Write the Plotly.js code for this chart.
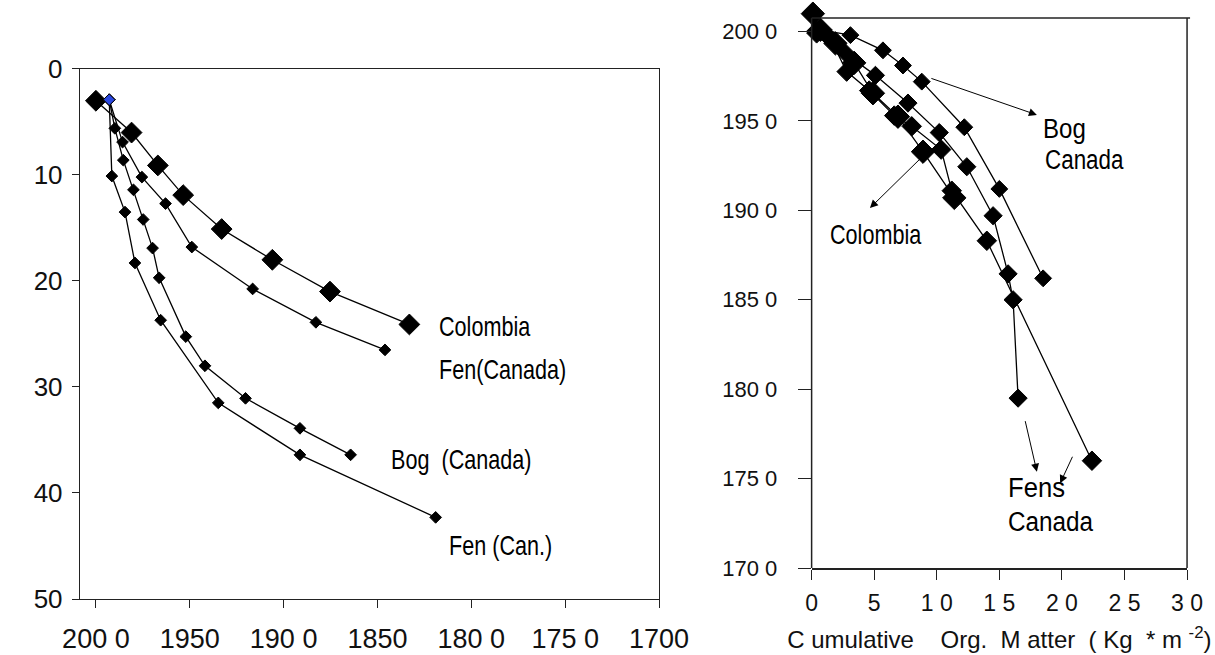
<!DOCTYPE html>
<html>
<head>
<meta charset="utf-8">
<script src="https://cdn.plot.ly/plotly-3.0.1.min.js"></script>
<style>html,body{margin:0;padding:0;background:#fff;}#chart{width:1215px;height:655px;}</style>
</head>
<body>
<div id="chart"></div>
<script>
// ---- Left panel: depth (cm) vs. year ----
const colYears = [2000, 1981, 1967, 1953.5, 1933, 1906, 1875.3, 1833];
const colDepth = [3.0, 6.0, 9.1, 11.9, 15.1, 18.0, 21.0, 24.1];

const fenCanYears = [1992.9, 1985.8, 1975.5, 1962.9, 1948.9, 1916.5, 1882.8, 1846];
const fenCanDepth = [2.9, 6.9, 10.2, 12.7, 16.8, 20.75, 23.9, 26.5];

const bogCanYears = [1992.9, 1989.9, 1985.4, 1980, 1974.8, 1969.8, 1966.3, 1952.1, 1941.9, 1920.3, 1891.3, 1864.3];
const bogCanDepth = [2.9, 5.6, 8.6, 11.4, 14.2, 16.9, 19.7, 25.25, 28.0, 31.07, 33.9, 36.4];

const fenCan2Years = [1992.9, 1991.5, 1984.5, 1979.2, 1965.5, 1934.8, 1891.3, 1819];
const fenCan2Depth = [2.9, 10.1, 13.5, 18.3, 23.7, 31.5, 36.4, 42.3];

const leftXTickVals = [2000, 1950, 1900, 1850, 1800, 1750, 1700];
const leftXTickText = ["200 0", "1950", "190 0", "1850", "180 0", "175 0", "1700"];
const leftYTickVals = [0, 10, 20, 30, 40, 50];
const leftYTickText = ["0", "10", "20", "30", "40", "50"];

// ---- Right panel: year vs. cumulative organic matter ----
const bogROM   = [0.7, 3.1, 5.7, 7.3, 8.8, 12.2, 15.0, 18.5];
const bogRYear = [2001, 1998, 1989.5, 1981, 1972, 1946.5, 1912, 1862];

const colROM   = [0.1, 0.7, 1.9, 3.4, 4.9, 6.9, 8.9, 11.4];
const colRYear = [2010, 2001, 1993.4, 1982.5, 1965.5, 1952.4, 1932.8, 1907];

const fenAOM   = [0.3, 2.7, 5.1, 7.7, 10.2, 12.4, 14.5, 15.7, 16.1, 16.5];
const fenAYear = [2000, 1988, 1975.5, 1960, 1943.5, 1924.4, 1897, 1864.5, 1850, 1795];

const fenBOM   = [0.4, 1.5, 2.8, 4.6, 6.6, 8.0, 10.35, 11.2, 14.0, 22.4];
const fenBYear = [1999, 1996, 1977.6, 1967, 1953, 1947, 1934, 1911, 1883, 1760];

const rightYTickVals = [2000, 1950, 1900, 1850, 1800, 1750, 1700];
const rightYTickText = ["200 0", "195 0", "190 0", "185 0", "180 0", "175 0", "170 0"];
const rightXTickVals = [0, 5, 10, 15, 20, 25, 30];
const rightXTickText = ["0", "5", "1 0", "1 5", "2 0", "2 5", "3 0"];

const tickFont = "Liberation Sans, Arial, sans-serif";

function firstColored(n, c) { const a = new Array(n).fill('black'); a[0] = c; return a; }

const line = {color: 'black', width: 1.3};
const traces = [
  {x: colYears, y: colDepth, xaxis: 'x', yaxis: 'y', mode: 'lines+markers', line: line,
   marker: {symbol: 'diamond', size: 16, color: 'black', line: {color: 'black', width: 1}}, cliponaxis: false},
  {x: fenCanYears, y: fenCanDepth, xaxis: 'x', yaxis: 'y', mode: 'lines+markers', line: line,
   marker: {symbol: 'diamond', size: 9, color: firstColored(fenCanYears.length, '#1f7f7a'), line: {color: 'black', width: 1}}, cliponaxis: false},
  {x: bogCanYears, y: bogCanDepth, xaxis: 'x', yaxis: 'y', mode: 'lines+markers', line: line,
   marker: {symbol: 'diamond', size: 9, color: firstColored(bogCanYears.length, '#e8482a'), line: {color: 'black', width: 1}}, cliponaxis: false},
  {x: fenCan2Years, y: fenCan2Depth, xaxis: 'x', yaxis: 'y', mode: 'lines+markers', line: line,
   marker: {symbol: 'diamond', size: 9, color: firstColored(fenCan2Years.length, '#2a48e0'), line: {color: 'black', width: 1}}, cliponaxis: false},

  {x: fenAOM, y: fenAYear, xaxis: 'x2', yaxis: 'y2', mode: 'lines+markers', line: line,
   marker: {symbol: 'diamond', size: 14, color: 'black', line: {color: 'black', width: 1}}, cliponaxis: false},
  {x: fenBOM, y: fenBYear, xaxis: 'x2', yaxis: 'y2', mode: 'lines+markers', line: line,
   marker: {symbol: 'diamond', size: 15, color: 'black', line: {color: 'black', width: 1}}, cliponaxis: false},
  {x: bogROM, y: bogRYear, xaxis: 'x2', yaxis: 'y2', mode: 'lines+markers', line: line,
   marker: {symbol: 'diamond', size: 13, color: 'black', line: {color: 'black', width: 1}}, cliponaxis: false},
  {x: colROM, y: colRYear, xaxis: 'x2', yaxis: 'y2', mode: 'lines+markers', line: line,
   marker: {symbol: 'diamond', size: 18, color: 'black', line: {color: 'black', width: 1}}, cliponaxis: false}
];

// horizontal squeeze per annotation (the reference lettering is a narrow face)
const squeeze = [];
function label(text, x, y, xr, yr, size, sx) {
  squeeze.push(sx);
  return {text: text, x: x, y: y, xref: xr, yref: yr, showarrow: false, xanchor: 'left', yanchor: 'middle',
          font: {family: tickFont, size: size, color: 'black'}};
}
function arrow(x, y, ax, ay) {
  squeeze.push(1);
  return {text: '', x: x, y: y, xref: 'x2', yref: 'y2', ax: ax, ay: ay, axref: 'pixel', ayref: 'pixel',
          showarrow: true, arrowhead: 2, arrowsize: 1.6, arrowwidth: 1, arrowcolor: 'black'};
}

const frameTop = 1 - 18 / 655;

const annotations = [
  label('Colombia', 1818.5, 24.3, 'x', 'y', 27, 0.8),
  label('Fen(Canada)', 1818.2, 28.4, 'x', 'y', 27, 0.8),
  label('Bog\u00a0\u00a0(Canada)', 1843.7, 36.9, 'x', 'y', 27, 0.8),
  label('Fen (Can.)', 1813.2, 45.0, 'x', 'y', 27, 0.8),

  label('Bog', 18.3, 1946, 'x2', 'y2', 28, 0.86),
  label('Canada', 18.5, 1928.7, 'x2', 'y2', 28, 0.8),
  label('Colombia', 1.3, 1886, 'x2', 'y2', 27, 0.8),
  label('Fens', 15.5, 1744.7, 'x2', 'y2', 27, 0.95),
  label('Canada', 15.5, 1726, 'x2', 'y2', 27, 0.9),

  arrow(18.0, 1953.4, -107, -37),
  arrow(4.66, 1901.3, 52, -51),
  arrow(18.0, 1753.9, -12, -52),
  arrow(19.86, 1747.4, 13, -28)
];

const layout = {
  width: 1215, height: 655,
  margin: {l: 0, r: 0, t: 0, b: 0},
  paper_bgcolor: 'white', plot_bgcolor: 'rgba(0,0,0,0)',
  showlegend: false,
  xaxis: {
    domain: [0.0658, 0.5424], range: [2008.5, 1700], anchor: 'y',
    tickvals: leftXTickVals, ticktext: leftXTickText,
    ticks: 'outside', ticklen: 8, tickcolor: '#222', tickwidth: 1, ticklabelstandoff: 7,
    showline: true, mirror: true, linecolor: '#222', linewidth: 1.2,
    showgrid: false, zeroline: false,
    tickfont: {family: tickFont, size: 27, color: '#111'}
  },
  yaxis: {
    domain: [0.0855, 0.8947], range: [50, 0], anchor: 'x',
    tickvals: leftYTickVals, ticktext: leftYTickText,
    ticks: 'outside', ticklen: 7, tickcolor: '#222', tickwidth: 1, ticklabelstandoff: 4,
    showline: true, mirror: true, linecolor: '#222', linewidth: 1.2,
    showgrid: false, zeroline: false,
    tickfont: {family: tickFont, size: 26, color: '#111'}
  },
  xaxis2: {
    domain: [0.668, 0.977], range: [0, 30], anchor: 'y2',
    tickvals: rightXTickVals, ticktext: rightXTickText,
    ticks: 'outside', ticklen: 10, tickcolor: '#222', tickwidth: 1, ticklabelstandoff: 4,
    showline: true, mirror: false, linecolor: '#222', linewidth: 1.5,
    showgrid: false, zeroline: false,
    tickfont: {family: tickFont, size: 23, color: '#111'},
    title: {text: 'C\u00a0umulative\u00a0\u00a0\u00a0\u00a0Org.\u00a0\u00a0M\u00a0atter\u00a0\u00a0(\u00a0Kg\u00a0\u00a0*\u00a0m\u00a0<sup>-2</sup>)',
            font: {family: tickFont, size: 24, color: '#111'}, standoff: 16}
  },
  yaxis2: {
    domain: [0.1328, 1 - 10.1 / 655], range: [1700, 2012], anchor: 'x2',
    tickvals: rightYTickVals, ticktext: rightYTickText,
    ticks: 'outside', ticklen: 13, tickcolor: '#222', tickwidth: 1, ticklabelstandoff: 16,
    showline: false, mirror: false,
    showgrid: false, zeroline: false,
    tickfont: {family: tickFont, size: 22, color: '#111'}
  },
  shapes: [
    {type: 'line', xref: 'x2 domain', yref: 'paper', x0: 0, x1: 1.008, y0: frameTop, y1: frameTop, line: {color: '#222', width: 1.5}},
    {type: 'line', xref: 'x2 domain', yref: 'paper', x0: 1, x1: 1, y0: 0.1328, y1: frameTop, line: {color: '#222', width: 1.5}},
    {type: 'line', xref: 'x2 domain', yref: 'paper', x0: 0, x1: 0, y0: 0.1328, y1: frameTop, line: {color: '#222', width: 1.5}}
  ],
  annotations: annotations
};

Plotly.newPlot('chart', traces, layout, {staticPlot: true, displayModeBar: false}).then(function (gd) {
  const groups = gd.querySelectorAll('.infolayer g.annotation');
  groups.forEach(function (g) {
    const idx = +g.getAttribute('data-index');
    const s = squeeze[idx];
    if (!s || s === 1) return;
    const t = g.querySelector('text.annotation-text');
    if (!t) return;
    const bb = t.getBBox();
    const prev = t.getAttribute('transform') || '';
    t.setAttribute('transform', prev + ' translate(' + (bb.x * (1 - s)) + ',0) scale(' + s + ',1)');
  });
});
</script>
</body>
</html>
